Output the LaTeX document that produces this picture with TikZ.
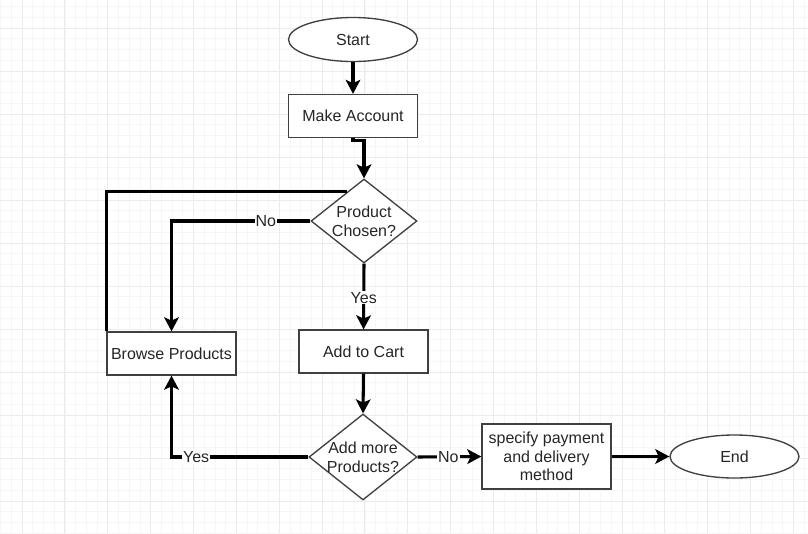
\documentclass[tikz,border=0pt]{standalone}
\usepackage{fontspec}
\setmainfont{Liberation Sans}
\usetikzlibrary{shapes.geometric,arrows.meta,calc}

\definecolor{gridmajor}{HTML}{EBEBEB}
\definecolor{gridminor}{HTML}{F6F6F6}
\definecolor{outline}{HTML}{404040}

\tikzset{
  shapebase/.style={draw=outline, line width=1pt, fill=white, inner sep=0pt,
    font=\fontsize{12}{14}\selectfont, align=center, text=black!85},
  terminal/.style={shapebase, ellipse, minimum width=96.75pt, minimum height=33pt},
  process/.style={shapebase, rectangle, minimum width=96.75pt, minimum height=32.25pt},
  decision/.style={shapebase, diamond},
  conn/.style={line width=2.3pt, draw=black},
  arrowconn/.style={conn, -{Stealth[length=10.5pt,width=11pt,inset=2.5pt]}},
  edgelabel/.style={fill=white, inner sep=0.8pt, font=\fontsize{12}{14}\selectfont, text=black!85},
  majorline/.style={draw=gridmajor, line width=0.6pt},
  minorline/.style={draw=gridminor, line width=0.4pt}
}

\begin{document}
\begin{tikzpicture}[x=0.75pt,y=-0.75pt]
  % page and grid
  \fill[white] (0,0) rectangle (808,533);
  \useasboundingbox (0,0) rectangle (808,533);
  \foreach \k in {-3,...,76} {
    \draw[minorline] ({22+10.7125*\k},0) -- ({22+10.7125*\k},533);
  }
  \foreach \k in {-3,...,50} {
    \draw[minorline] (0,{28+10.75*\k}) -- (808,{28+10.75*\k});
  }
  \foreach \k in {0,...,18} {
    \draw[majorline] ({22+42.85*\k},0) -- ({22+42.85*\k},533);
  }
  \foreach \k in {0,...,12} {
    \draw[majorline] (0,{28+43*\k}) -- (808,{28+43*\k});
  }

  % flowchart nodes
  \node[terminal] (start) at (353,39.5) {Start};
  \node[process] (acct) at (353,116) {Make Account};
  \node[decision, minimum width=79.5pt, minimum height=63pt,
        label={[font=\fontsize{12}{14}\selectfont, align=center, text=black!85]center:Product\\Chosen?}]
        (chosen) at (364,221) {};
  \node[process] (browse) at (171.5,353.5) {Browse Products};
  \node[process] (cart) at (363.5,351.5) {Add to Cart};
  \node[decision, minimum width=81pt, minimum height=64.5pt,
        label={[font=\fontsize{12}{14}\selectfont, align=center, text=black!85]center:Add more\\Products?}]
        (more) at (363,457) {};
  \node[process, minimum height=48.75pt] (pay) at (546.5,456.5) {specify payment\\and delivery\\method};
  \node[terminal, minimum height=32.25pt] (end) at (734.5,456.5) {End};

  % connectors
  \coordinate (loopend) at ($(chosen.west)!0.69!(chosen.north)$);
  \draw[arrowconn] (start.south) -- (acct.north);
  \draw[arrowconn] (acct.south) -- ++(0,2) -| (chosen.north);
  \draw[conn] (browse.north west) |- (loopend);
  \draw[arrowconn] (chosen.west) -| node[edgelabel, pos=0.16] (lblno1) {No} (browse.north);
  \draw[arrowconn] (chosen.south) -- node[edgelabel, pos=0.52] (lblyes1) {Yes} (cart.north);
  \draw[arrowconn] (cart.south) -- (more.north);
  \draw[arrowconn] (more.west) -| node[edgelabel, pos=0.41] (lblyes2) {Yes} (browse.south);
  \draw[arrowconn] (more.east) -- node[edgelabel, pos=0.48] (lblno2) {No} (pay.west);
  \draw[arrowconn] (pay.east) -- (end.west);
\end{tikzpicture}
\end{document}
